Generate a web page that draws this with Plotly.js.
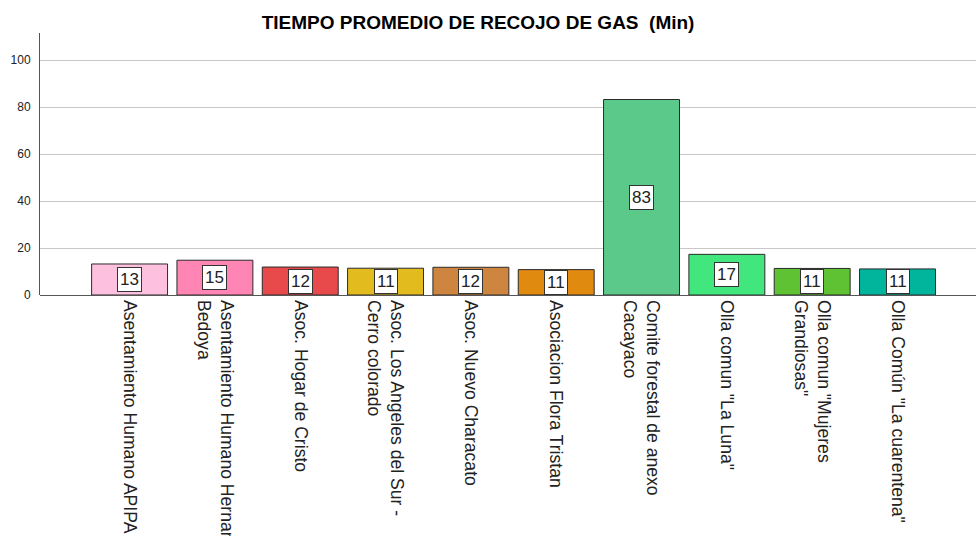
<!DOCTYPE html>
<html>
<head>
<meta charset="utf-8">
<script src="https://cdn.plot.ly/plotly-3.0.1.min.js"></script>
<style>
  html, body { margin: 0; padding: 0; background: #fff; }
  #chart { width: 976px; height: 536px; }
</style>
</head>
<body>
<div id="chart"></div>
<script>
const categories = [
  "Asentamiento Humano APIPA",
  "Asentamiento Humano Hernan<br>Bedoya",
  "Asoc. Hogar de Cristo",
  "Asoc. Los Angeles del Sur -<br>Cerro colorado",
  "Asoc. Nuevo Characato",
  "Asociacion Flora Tristan",
  "Comite forestal de anexo<br>Cacayaco",
  "Olla comun \"La Luna\"",
  "Olla comun \"Mujeres<br>Grandiosas\"",
  "Olla Común \"La cuarentena\""
];
const minutes = [13.2, 14.8, 11.9, 11.4, 11.8, 10.8, 83.2, 17.3, 11.3, 11.1];
const barColors = [
  "#fdc0df", "#ff85b4", "#e84a4c", "#e2bc1e", "#cd853f",
  "#e18a10", "#5bc98a", "#41e77c", "#5ec232", "#00b59b"
];
const yTicks = [0, 20, 40, 60, 80, 100];

function chart() {
  const xs = categories.map((_, i) => i);

  const bars = {
    type: "bar",
    x: xs,
    y: minutes,
    width: 0.89,
    marker: { color: barColors, line: { color: "#2b2b2b", width: 1 } },
    hoverinfo: "skip",
    showlegend: false
  };

  // value boxes sit in the middle of each bar
  const labels = minutes.map((v, i) => ({
    x: i,
    y: v / 2,
    xref: "x",
    yref: "y",
    text: String(Math.round(v)),
    showarrow: false,
    bgcolor: "#ffffff",
    bordercolor: "#333333",
    borderwidth: 1,
    borderpad: 2,
    font: { family: "Liberation Sans, Arial, sans-serif", size: 17, color: "#222" }
  }));

  const layout = {
    width: 976,
    height: 536,
    margin: { l: 40, r: 0, t: 33, b: 241 },
    paper_bgcolor: "#ffffff",
    plot_bgcolor: "#ffffff",
    font: { family: "Liberation Sans, Arial, sans-serif", color: "#222" },
    title: {
      text: "<b>TIEMPO PROMEDIO DE RECOJO DE GAS  (Min)</b>",
      x: 0.468,
      xref: "paper",
      xanchor: "center",
      y: 0.958,
      yanchor: "middle",
      font: { size: 19, color: "#000" }
    },
    xaxis: {
      range: [-1.05, 9.92],
      tickvals: xs,
      ticktext: categories,
      tickangle: 90,
      ticks: "",
      ticklabelstandoff: 4,
      showgrid: false,
      zeroline: false,
      showline: false,
      tickfont: { size: 17.6, color: "#222" },
      fixedrange: true
    },
    yaxis: {
      range: [0, 111.5],
      tickvals: yTicks,
      ticks: "",
      showgrid: true,
      gridcolor: "#c8c8c8",
      gridwidth: 1,
      zeroline: true,
      zerolinecolor: "#555",
      zerolinewidth: 1,
      showline: true,
      linecolor: "#555",
      linewidth: 1,
      tickfont: { size: 12, color: "#222" },
      ticklabelstandoff: 6,
      fixedrange: true
    },
    annotations: labels
  };

  Plotly.newPlot("chart", [bars], layout, { displayModeBar: false, staticPlot: true });
}

window.addEventListener("load", chart);
</script>
</body>
</html>
